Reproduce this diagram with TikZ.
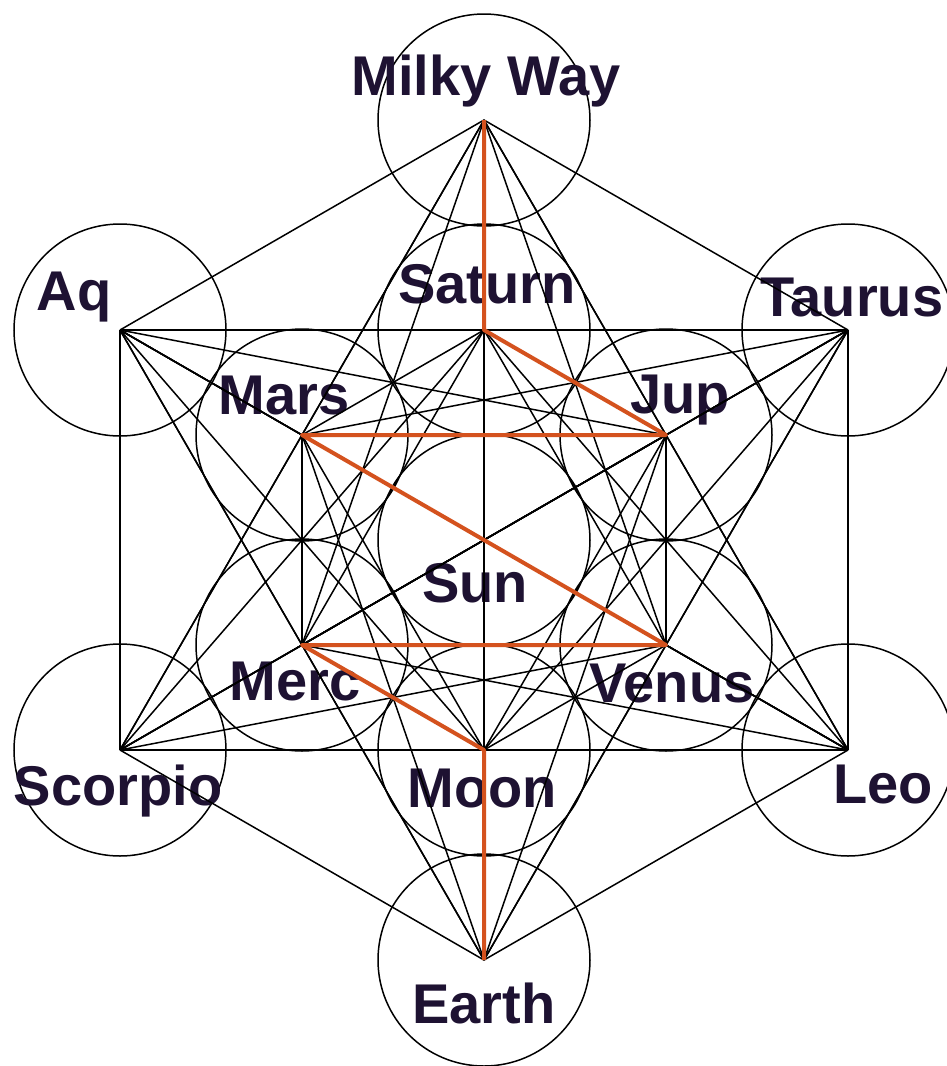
\documentclass[tikz,border=0pt]{standalone}
\usepackage{fontspec}
\setmainfont{Liberation Sans}
\definecolor{ink}{RGB}{30,18,50}
\definecolor{path}{RGB}{212,82,30}
\begin{document}
\begin{tikzpicture}[x=1pt,y=-1pt,
  lbl/.style={anchor=base,inner sep=0pt,font=\fontsize{56}{60}\selectfont\bfseries,text=ink},
  thin line/.style={draw=black,line width=1.5pt},
  orbit/.style={draw=black,line width=1.5pt},
  route/.style={draw=path,line width=4pt,line join=round}]
\useasboundingbox[fill=white] (0,0) rectangle (947,1066);
% centres
\coordinate (p1) at (484,120);   % Milky Way
\coordinate (p2) at (484,330);   % Saturn
\coordinate (p3) at (302,435);   % Mars
\coordinate (p4) at (666,435);   % Jup
\coordinate (p5) at (484,540);   % Sun
\coordinate (p6) at (302,645);   % Merc
\coordinate (p7) at (666,645);   % Venus
\coordinate (p8) at (484,750);   % Moon
\coordinate (p9) at (484,960);   % Earth
\coordinate (p10) at (120,330);  % Aq
\coordinate (p11) at (848,330);  % Taurus
\coordinate (p12) at (120,750);  % Scorpio
\coordinate (p13) at (848,750);  % Leo
% circles
\foreach \i in {1,...,13} \draw[orbit] (p\i) circle[radius=106];
% labels
\node[lbl] (tMW) at (486,95) {Milky Way};
\node[lbl] (tAq) at (74,310) {Aq};
\node[lbl] (tTa) at (852,316) {Taurus};
\node[lbl] (tSa) at (487,303) {Saturn};
\node[lbl] (tMa) at (284,414) {Mars};
\node[lbl] (tJu) at (680,413) {Jup};
\node[lbl] (tSu) at (475,602) {Sun};
\node[lbl] (tMe) at (295,700) {Merc};
\node[lbl] (tVe) at (672,702) {Venus};
\node[lbl] (tSc) at (118,805) {Scorpio};
\node[lbl] (tMo) at (482,807) {Moon};
\node[lbl] (tLe) at (883,803) {Leo};
\node[lbl] (tEa) at (484,1023) {Earth};
% all connecting lines
\foreach \i in {1,...,12}{
  \pgfmathtruncatemacro\k{\i+1}
  \foreach \j in {\k,...,13} \draw[thin line] (p\i) -- (p\j);
}
% the orange route
\draw[route] (p1) -- (p2) -- (p4) -- (p3) -- (p7) -- (p6) -- (p8) -- (p9);
\end{tikzpicture}
\end{document}
